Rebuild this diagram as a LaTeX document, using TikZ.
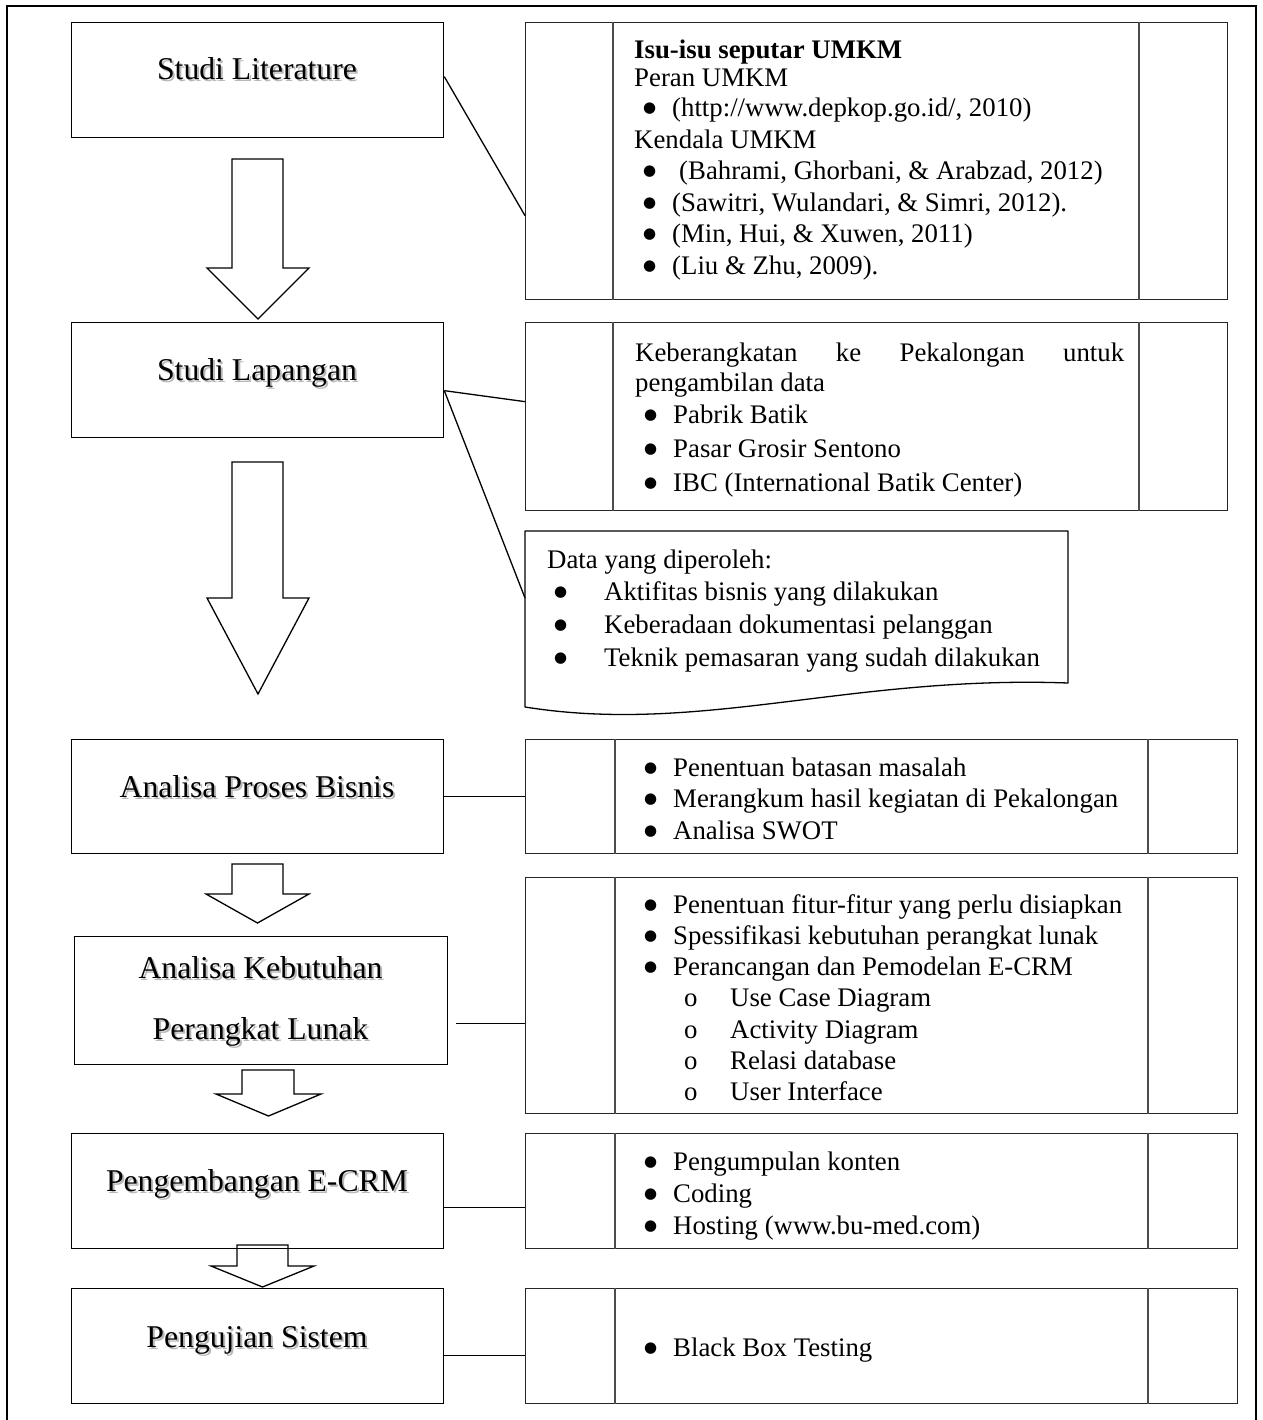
\documentclass[tikz,border=0pt]{standalone}
\usepackage{fontspec}
\setmainfont{Liberation Serif}[Ligatures=CommonOff]
\newfontfamily\dotfont{DejaVu Sans}
\usetikzlibrary{calc}

% list helpers: bullet item, sub item (hollow o), bullet item of the note
\newcommand{\bigdot}{\raisebox{4pt}{\fontsize{15pt}{15pt}\dotfont\symbol{"25CF}}}
\newcommand{\bitem}[1]{\hspace*{9pt}\makebox[29pt][l]{\bigdot}#1}
\newcommand{\sitem}[1]{\hspace*{49pt}\makebox[46pt][l]{o}#1}
\newcommand{\ditem}[1]{\hspace*{7pt}\makebox[50pt][l]{\bigdot}#1}
% title text with a soft grey drop shadow
\newcommand{\shadowed}[1]{\leavevmode\rlap{\hspace*{2pt}\raisebox{-2pt}{\textcolor{black!28}{#1}}}#1}
% hollow block arrow: shaft left/right, shaft top, head base, head left/right, tip
\newcommand{\blockarrow}[7]{%
  \draw[arrowshape] (#1,#3) -- (#2,#3) -- (#2,#4) -- (#6,#4) -- ({(#5+#6)/2},#7)
    -- (#5,#4) -- (#1,#4) -- cycle;}

\tikzset{
  frame/.style={draw=black, line width=2.6pt},
  stepbox/.style={draw=black, line width=1.3pt, inner sep=0pt, anchor=north west},
  panel/.style={draw=black!85, line width=1.3pt, inner sep=0pt, anchor=north west},
  divider/.style={draw=black!70, line width=1.3pt},
  link/.style={draw=black, line width=1.3pt},
  docshape/.style={draw=black, line width=1.3pt, line join=round},
  arrowshape/.style={draw=black, fill=white, line width=1.3pt, line join=miter},
  title/.style={anchor=base, inner sep=0pt, font=\fontsize{31.7pt}{38pt}\selectfont},
  body/.style={anchor=base west, inner sep=0pt, font=\fontsize{26.8pt}{31.5pt}\selectfont},
}

\begin{document}
\begin{tikzpicture}[x=1pt, y=-1pt]
\useasboundingbox (0,0) rectangle (1262,1420);
\fill[white] (0,0) rectangle (1262,1420);

% page frame, open at the foot
\draw[frame] (7,1421) -- (7,6) -- (1256,6) -- (1256,1421);

% block arrows between the steps
\blockarrow{232}{283}{159}{268}{207}{309}{319}
\blockarrow{232}{283}{462}{598}{207}{309}{694}
\blockarrow{232}{283}{864}{894}{206}{309}{923}
\blockarrow{242}{294}{1070}{1094}{216}{321}{1116}
\blockarrow{237}{288}{1245}{1266}{211}{314}{1287}

% step boxes
\node[stepbox, minimum width=372pt, minimum height=115pt] (lit) at (71,22) {};
\node[stepbox, minimum width=372pt, minimum height=115pt] (lap) at (71,322) {};
\node[stepbox, minimum width=372pt, minimum height=114pt] (apb) at (71,739) {};
\node[stepbox, minimum width=373pt, minimum height=128pt] (akp) at (74,936) {};
\node[stepbox, minimum width=372pt, minimum height=115pt] (pe)  at (71,1133) {};
\node[stepbox, minimum width=372pt, minimum height=115pt] (ps)  at (71,1288) {};

% step titles
\node[title] (litT) at (257,80) {\shadowed{Studi Literature}};
\node[title] (lapT) at (257,380) {\shadowed{Studi Lapangan}};
\node[title] (apbT) at (257,797) {\shadowed{Analisa Proses Bisnis}};
\node[title] (akpT) at (260.5,978) {\begin{tabular}[t]{@{}c@{}}
  \shadowed{Analisa Kebutuhan}\\[23pt]
  \shadowed{Perangkat Lunak}\end{tabular}};
\node[title] (peT) at (257,1191) {\shadowed{Pengembangan E-CRM}};
\node[title] (psT) at (257,1347) {\shadowed{Pengujian Sistem}};

% detail panels
\node[panel, minimum width=702pt, minimum height=277pt] (p1) at (525,22) {};
\node[panel, minimum width=702pt, minimum height=188pt] (p2) at (525,322) {};
\node[panel, minimum width=712pt, minimum height=114pt] (p3) at (525,739) {};
\node[panel, minimum width=712pt, minimum height=236pt] (p4) at (525,877) {};
\node[panel, minimum width=712pt, minimum height=115pt] (p5) at (525,1133) {};
\node[panel, minimum width=712pt, minimum height=115pt] (p6) at (525,1288) {};

\foreach \p/\a/\b in {p1/88/614, p2/88/614, p3/90/623, p4/90/623, p5/90/623, p6/90/623} {
  \draw[divider] ($(\p.north west)+(\a,0)$) -- ($(\p.south west)+(\a,0)$);
  \draw[divider] ($(\p.north west)+(\b,0)$) -- ($(\p.south west)+(\b,0)$);
}

% note with wavy foot
\draw[docshape] (525,531) -- (1068,531) -- (1068,683)
  .. controls (850,675) and (700,735) .. (525,707) -- cycle;
\coordinate (docL) at (525,598);

% panel texts
\node[body] (t1) at (634,59) {\begin{tabular}[t]{@{}l@{}}
  \textbf{Isu-isu seputar UMKM}\\[-3.5pt]
  Peran UMKM\\[-1.5pt]
  \bitem{(http://www.depkop.go.id/, 2010)}\\
  Kendala UMKM\\
  \bitem{\hspace*{7pt}(Bahrami, Ghorbani, \& Arabzad, 2012)}\\
  \bitem{(Sawitri, Wulandari, \& Simri, 2012).}\\
  \bitem{(Min, Hui, \& Xuwen, 2011)}\\
  \bitem{(Liu \& Zhu, 2009).}
\end{tabular}};

\node[body, font=\fontsize{26.8pt}{30pt}\selectfont] (t2) at (635,361) {\begin{tabular}[t]{@{}l@{}}
  \makebox[489pt][s]{Keberangkatan\hfill ke\hfill Pekalongan\hfill untuk}\\
  pengambilan data\\[2pt]
  \bitem{Pabrik Batik}\\[4pt]
  \bitem{Pasar Grosir Sentono}\\[4pt]
  \bitem{IBC (International Batik Center)}
\end{tabular}};

\node[body, font=\fontsize{26.8pt}{32.7pt}\selectfont] (td) at (547,568) {\begin{tabular}[t]{@{}l@{}}
  Data yang diperoleh:\\
  \ditem{Aktifitas bisnis yang dilakukan}\\
  \ditem{Keberadaan dokumentasi pelanggan}\\
  \ditem{Teknik pemasaran yang sudah dilakukan}
\end{tabular}};

\node[body] (t3) at (635,776) {\begin{tabular}[t]{@{}l@{}}
  \bitem{Penentuan batasan masalah}\\
  \bitem{Merangkum hasil kegiatan di Pekalongan}\\
  \bitem{Analisa SWOT}
\end{tabular}};

\node[body, font=\fontsize{26.8pt}{31.3pt}\selectfont] (t4) at (635,913) {\begin{tabular}[t]{@{}l@{}}
  \bitem{Penentuan fitur-fitur yang perlu disiapkan}\\
  \bitem{Spessifikasi kebutuhan perangkat lunak}\\
  \bitem{Perancangan dan Pemodelan E-CRM}\\
  \sitem{Use Case Diagram}\\
  \sitem{Activity Diagram}\\
  \sitem{Relasi database}\\
  \sitem{User Interface}
\end{tabular}};

\node[body, font=\fontsize{26.8pt}{32pt}\selectfont] (t5) at (635,1170) {\begin{tabular}[t]{@{}l@{}}
  \bitem{Pengumpulan konten}\\
  \bitem{Coding}\\
  \bitem{Hosting (www.bu-med.com)}
\end{tabular}};

\node[body] (t6) at (635,1356) {\bitem{Black Box Testing}};

% connectors from the steps to their panels
\draw[link] ([yshift=3.5pt]lit.east) -- ([yshift=-54.5pt]p1.west);
\draw[link] ([yshift=-10.5pt]lap.east) -- ([yshift=15pt]p2.west);
\draw[link] ([yshift=-10.5pt]lap.east) -- (docL);
\draw[link] (apb.east) -- (p3.west);
\draw[link] ([xshift=8pt,yshift=-23pt]akp.east) -- ([yshift=-28pt]p4.west);
\draw[link] ([yshift=-16.5pt]pe.east) -- ([yshift=-16.5pt]p5.west);
\draw[link] ([yshift=-9.5pt]ps.east) -- ([yshift=-9.5pt]p6.west);
\end{tikzpicture}
\end{document}
